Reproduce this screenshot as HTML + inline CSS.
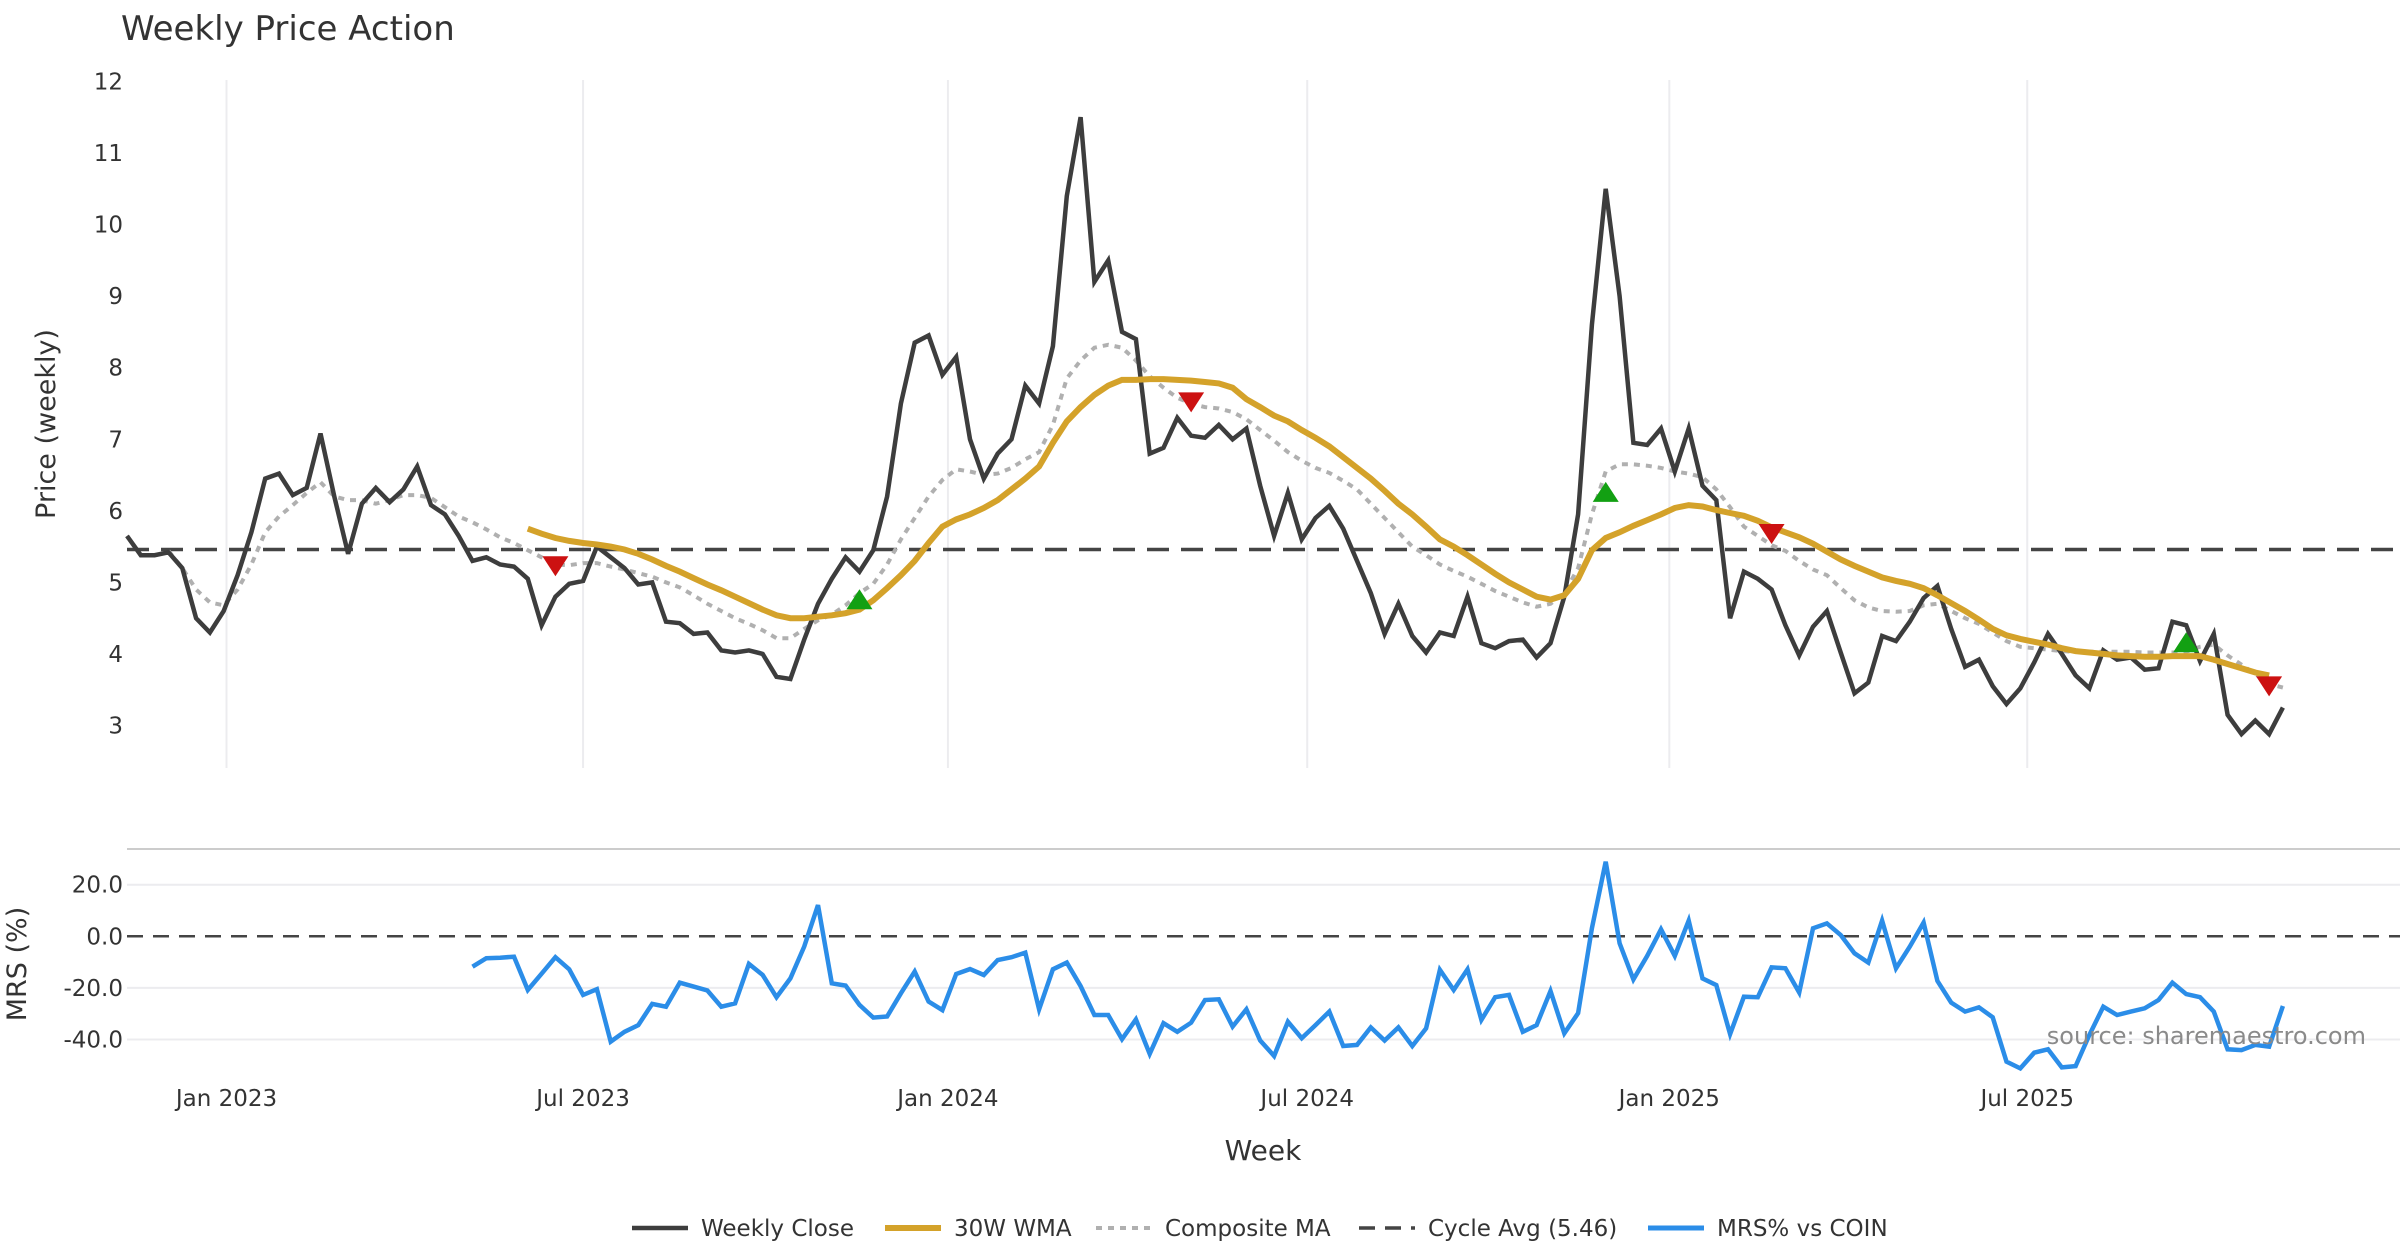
<!DOCTYPE html>
<html><head><meta charset="utf-8"><style>
html,body{margin:0;padding:0;background:#fff;}
svg{display:block;font-family:"DejaVu Sans","Liberation Sans",sans-serif;}
</style></head><body>
<svg id="chart" width="2400" height="1260" viewBox="0 0 2400 1260" xmlns="http://www.w3.org/2000/svg">
<text x="121" y="40" font-size="34" fill="#333">Weekly Price Action</text>
<g id="grid"></g>
<g id="series"></g>
<g id="axes"></g>
</svg>
<script>
const closeVals=[5.65,5.38,5.38,5.42,5.2,4.5,4.3,4.6,5.1,5.7,6.45,6.52,6.22,6.32,7.08,6.2,5.4,6.1,6.32,6.12,6.3,6.62,6.08,5.95,5.65,5.3,5.35,5.25,5.22,5.05,4.4,4.8,4.98,5.02,5.5,5.35,5.2,4.97,5.0,4.45,4.43,4.28,4.3,4.05,4.02,4.05,4.0,3.68,3.65,4.2,4.7,5.05,5.35,5.15,5.45,6.2,7.5,8.35,8.45,7.9,8.15,7.0,6.45,6.8,7.0,7.75,7.5,8.3,10.4,11.5,9.2,9.5,8.5,8.4,6.8,6.88,7.3,7.05,7.02,7.2,7.0,7.15,6.35,5.65,6.25,5.6,5.9,6.07,5.75,5.3,4.85,4.28,4.7,4.25,4.02,4.3,4.25,4.8,4.15,4.08,4.18,4.2,3.95,4.15,4.8,5.95,8.6,10.5,9.0,6.95,6.92,7.15,6.55,7.15,6.35,6.15,4.5,5.15,5.05,4.9,4.4,3.98,4.38,4.6,4.02,3.45,3.6,4.25,4.18,4.45,4.78,4.95,4.35,3.82,3.92,3.55,3.3,3.52,3.88,4.28,4.0,3.7,3.52,4.05,3.92,3.95,3.78,3.8,4.45,4.4,3.9,4.28,3.15,2.88,3.07,2.88,3.25];
const wmaStart=29;
const wmaVals=[5.75,5.68,5.62,5.58,5.55,5.53,5.50,5.46,5.40,5.32,5.23,5.15,5.06,4.97,4.89,4.80,4.71,4.62,4.54,4.50,4.50,4.52,4.54,4.57,4.62,4.75,4.92,5.10,5.30,5.55,5.78,5.88,5.95,6.04,6.15,6.30,6.45,6.62,6.95,7.25,7.45,7.62,7.75,7.83,7.83,7.84,7.84,7.83,7.82,7.80,7.78,7.72,7.56,7.45,7.33,7.25,7.13,7.02,6.90,6.75,6.60,6.45,6.28,6.10,5.95,5.78,5.60,5.50,5.38,5.25,5.12,5.00,4.90,4.80,4.76,4.82,5.05,5.45,5.62,5.70,5.79,5.87,5.95,6.04,6.08,6.06,6.01,5.97,5.93,5.86,5.77,5.70,5.63,5.54,5.43,5.32,5.23,5.15,5.07,5.02,4.98,4.92,4.82,4.71,4.60,4.48,4.35,4.26,4.21,4.17,4.13,4.08,4.04,4.02,4.00,3.98,3.97,3.96,3.96,3.97,3.97,3.97,3.92,3.86,3.80,3.74,3.70];
const compStart=3;
const compVals=[5.44,5.2,4.9,4.72,4.68,4.9,5.25,5.7,5.92,6.08,6.25,6.4,6.2,6.15,6.15,6.1,6.15,6.22,6.22,6.18,6.05,5.92,5.84,5.74,5.63,5.55,5.45,5.35,5.25,5.24,5.27,5.27,5.22,5.18,5.13,5.08,5.0,4.93,4.82,4.7,4.6,4.5,4.42,4.33,4.22,4.22,4.35,4.47,4.55,4.68,4.85,4.98,5.25,5.6,5.9,6.2,6.43,6.58,6.55,6.5,6.52,6.6,6.72,6.82,7.2,7.85,8.1,8.28,8.32,8.28,8.1,7.88,7.72,7.58,7.5,7.45,7.43,7.38,7.28,7.13,6.98,6.82,6.7,6.6,6.53,6.42,6.3,6.1,5.9,5.7,5.5,5.38,5.25,5.16,5.08,4.98,4.88,4.8,4.72,4.66,4.7,4.85,5.2,5.95,6.55,6.65,6.65,6.63,6.6,6.55,6.52,6.47,6.3,6.05,5.78,5.65,5.52,5.44,5.3,5.18,5.1,4.92,4.75,4.65,4.6,4.59,4.6,4.68,4.7,4.6,4.5,4.42,4.3,4.18,4.1,4.08,4.06,4.04,4.03,4.03,4.03,4.03,4.03,4.02,4.02,4.02,4.03,4.1,4.13,3.98,3.85,3.72,3.58,3.53];
const mrsStart=25;
const mrsVals=[-11.8,-8.5,-8.3,-7.9,-20.8,-14.5,-8.1,-12.8,-22.7,-20.5,-40.8,-37,-34.4,-26.2,-27.3,-18,-19.5,-21,-27.3,-26,-10.7,-15,-23.6,-16.3,-4,12.1,-18.2,-19.1,-26.6,-31.5,-31.1,-22.1,-13.7,-25.3,-28.6,-14.6,-12.7,-15,-9.2,-8.1,-6.3,-28.3,-12.8,-10.2,-19.3,-30.5,-30.5,-39.9,-32.2,-45.6,-33.7,-37,-33.5,-24.7,-24.4,-35,-28.3,-40.4,-46.4,-33.1,-39.5,-34.4,-29.2,-42.5,-42.1,-35.3,-40.4,-35.3,-42.5,-35.7,-13,-20.8,-12.8,-32.4,-23.6,-22.7,-37,-34.4,-21.2,-37.6,-29.8,3.1,28.9,-2.7,-16.7,-7.6,2.7,-7.6,6.1,-16.3,-18.9,-37.9,-23.4,-23.6,-12,-12.4,-21.8,3.1,5.0,0.5,-6.6,-10.2,6.1,-12.4,-4,5.3,-17.3,-25.7,-29.2,-27.5,-31.4,-48.6,-51.2,-45.1,-43.8,-50.8,-50.3,-38.2,-27.3,-30.5,-29.2,-27.9,-24.7,-18,-22.4,-23.6,-29.2,-43.8,-44.1,-42.1,-42.8,-27];
const cycleAvg=5.46;
const sellIdx=[31,77,119,155];
const sellVals=[5.24,7.53,5.69,3.56];
const buyIdx=[53,107,149];
const buyVals=[4.75,6.25,4.15];
const priceTicks=[3,4,5,6,7,8,9,10,11,12];
const mrsTicks=[20,0,-20,-40];
const mrsTickLabels=["20.0","0.0","-20.0","-40.0"];
const dateTickWeek=[7.2,33,59.4,85.4,111.6,137.5];
const dateTickLabels=["Jan 2023","Jul 2023","Jan 2024","Jul 2024","Jan 2025","Jul 2025"];

const NS="http://www.w3.org/2000/svg";
const X0=127, DX=13.82, X1=2400;
function xs(i){return X0+i*DX;}
function yp(v){return 725.5-(v-3)*71.56;}
function ym(v){return 936.3-v*2.58;}
function mk(tag,attrs,parent,text){const e=document.createElementNS(NS,tag);for(const k in attrs)e.setAttribute(k,attrs[k]);if(text!==undefined)e.textContent=text;parent.appendChild(e);return e;}
const grid=document.getElementById('grid'),ser=document.getElementById('series'),ax=document.getElementById('axes');

dateTickWeek.forEach((w,k)=>{
  const l=mk('line',{x1:xs(w),x2:xs(w),y1:80,y2:768,stroke:'#ececef','stroke-width':2},grid);
  
  
  const t=mk('text',{x:xs(w),y:1106,'font-size':23,fill:'#333','text-anchor':'middle'},ax,dateTickLabels[k]);
  
  
});
priceTicks.forEach(v=>{
  const t=mk('text',{x:123,y:yp(v)+8,'font-size':23,fill:'#333','text-anchor':'end'},ax,String(v));
  
  
});
mrsTicks.forEach((v,k)=>{
  if(v!==0){const g=mk('line',{x1:X0,x2:X1,y1:ym(v),y2:ym(v),stroke:'#ececef','stroke-width':2},grid);
  
  }
  const t=mk('text',{x:123,y:ym(v)+8,'font-size':23,fill:'#333','text-anchor':'end'},ax,mrsTickLabels[k]);
  
  
});
const sep=mk('line',{x1:X0,x2:X1,y1:849,y2:849,stroke:'#cccccc','stroke-width':2},grid);



let t=mk('text',{x:0,y:0,'font-size':27,fill:'#333','text-anchor':'middle',transform:'translate(55,424) rotate(-90)'},ax,'Price (weekly)');


t=mk('text',{x:0,y:0,'font-size':27,fill:'#333','text-anchor':'middle',transform:'translate(26,964) rotate(-90)'},ax,'MRS (%)');


t=mk('text',{x:1263,y:1160,'font-size':28,fill:'#333','text-anchor':'middle'},ax,'Week');


t=mk('text',{x:2366,y:1044,'font-size':24,fill:'#8a8a8a','text-anchor':'end'},ax,'source: sharemaestro.com');



function path(vals,start,yf){return vals.map((v,k)=>(k?'L':'M')+xs(start+k).toFixed(1)+' '+yf(v).toFixed(1)).join(' ');}
let p;
p=mk('line',{x1:X0,x2:X1,y1:yp(cycleAvg),y2:yp(cycleAvg),stroke:'#444','stroke-width':3.5,'stroke-dasharray':'22 12'},ser);


p=mk('line',{x1:X0,x2:X1,y1:ym(0),y2:ym(0),stroke:'#444','stroke-width':2.5,'stroke-dasharray':'16 10'},ser);


p=mk('path',{d:path(compVals,compStart,yp),fill:'none',stroke:'#b0b0b0','stroke-width':4,'stroke-dasharray':'6 6'},ser);


p=mk('path',{d:path(closeVals,0,yp),fill:'none',stroke:'#3d3d3d','stroke-width':4.5,'stroke-linejoin':'miter'},ser);


p=mk('path',{d:path(wmaVals,wmaStart,yp),fill:'none',stroke:'#d4a22a','stroke-width':6},ser);


p=mk('path',{d:path(mrsVals,mrsStart,ym),fill:'none',stroke:'#2b8de8','stroke-width':4.5},ser);


sellIdx.forEach((i,k)=>{
  const x=xs(i),y=yp(sellVals[k]);
  const m=mk('polygon',{points:`${x-13},${y-9} ${x+13},${y-9} ${x},${y+11}`,fill:'#cc1111'},ser);
  
  
});
buyIdx.forEach((i,k)=>{
  const x=xs(i),y=yp(buyVals[k]);
  const m=mk('polygon',{points:`${x-13},${y+9} ${x+13},${y+9} ${x},${y-11}`,fill:'#12a012'},ser);
  
  
});

const legend=[['Weekly Close',632,'#3d3d3d',4.5,''],['30W WMA',885,'#d4a22a',6,''],['Composite MA',1096,'#b0b0b0',4,'6 6'],['Cycle Avg (5.46)',1359,'#444',3.5,'16 10'],['MRS% vs COIN',1648,'#2b8de8',5,'']];
legend.forEach(l=>{
  const g=mk('g',{},ax);
  
  
  mk('line',{x1:l[1],x2:l[1]+56,y1:1228,y2:1228,stroke:l[2],'stroke-width':l[3],'stroke-dasharray':l[4]},g);
  mk('text',{x:l[1]+69,y:1236,'font-size':23,fill:'#333'},g,l[0]);
});
</script>
</body></html>
